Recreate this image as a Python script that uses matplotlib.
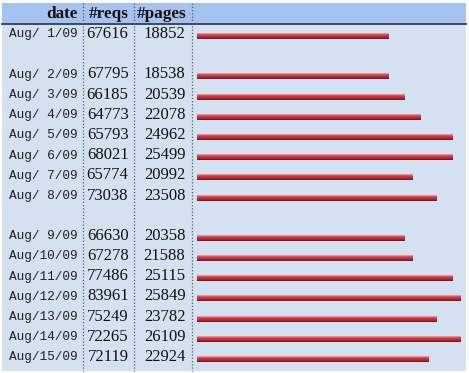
import numpy as np
import matplotlib
matplotlib.use("Agg")
import matplotlib.pyplot as plt

# ---- data ----
dates = ["Aug/ 1/09", None, "Aug/ 2/09", "Aug/ 3/09", "Aug/ 4/09", "Aug/ 5/09",
         "Aug/ 6/09", "Aug/ 7/09", "Aug/ 8/09", None, "Aug/ 9/09", "Aug/10/09",
         "Aug/11/09", "Aug/12/09", "Aug/13/09", "Aug/14/09", "Aug/15/09"]
reqs = [67616, None, 67795, 66185, 64773, 65793, 68021, 65774, 73038, None,
        66630, 67278, 77486, 83961, 75249, 72265, 72119]
pages = [18852, None, 18538, 20539, 22078, 24962, 25499, 20992, 23508, None,
         20358, 21588, 25115, 25849, 23782, 26109, 22924]
headers = ["date", "#reqs", "#pages"]
pages_per_step = 787  # bars are drawn in 8 px steps

W, H = 469, 373
fig = plt.figure(figsize=(W / 100, H / 100), dpi=100)
fig.patch.set_facecolor("white")

row0, rowh = 34.0, 20.19
def prow(p):
    return (p - row0) / rowh

ax = fig.add_axes([0, 0, 1, 1])
ax.set_xlim(0, W)
ax.set_ylim(prow(H), prow(0))
ax.axis("off")

left, right, top, bottom, hdr = 2, 466, 3, 371, 24
body_c = "#d3e1f1"
head_c = "#a6c2ee"
ax.add_patch(plt.Rectangle((left, prow(top)), right - left, prow(bottom) - prow(top),
                           facecolor=body_c, edgecolor="none", zorder=0))
ax.add_patch(plt.Rectangle((left, prow(top)), right - left, prow(hdr) - prow(top),
                           facecolor=head_c, edgecolor="none", zorder=1))
ax.plot([left, right], [prow(hdr), prow(hdr)], color="#2f3f5c", lw=1.3, zorder=3)
for xv in [83, 134, 192]:
    ax.plot([xv, xv], [prow(top), prow(bottom)], color="#4a5a78", lw=0.9,
            ls=(0, (1, 1.6)), zorder=3)

hy = prow(14)
for xr, h in zip([78, 129, 186], headers):
    ax.text(xr, hy, h, ha="right", va="center", family="Liberation Serif",
            fontweight="bold", fontsize=12.3, color="#111111", zorder=4)

for i, (d, r, p) in enumerate(zip(dates, reqs, pages)):
    if d is None:
        continue
    ax.text(77.5, i + 0.02, d, ha="right", va="center", family="Liberation Mono",
            fontsize=9.2, color="#222222", zorder=4)
    ax.text(128.5, i, str(r), ha="right", va="center", family="Liberation Serif",
            fontsize=12, color="#111111", zorder=4)
    ax.text(185.5, i, str(p), ha="right", va="center", family="Liberation Serif",
            fontsize=12, color="#111111", zorder=4)

# bars
bx0 = 197
bax = fig.add_axes([bx0 / W, 0, (right - bx0) / W, 1], sharey=ax)
bax.set_xlim(0, (right - bx0) / 8)
bax.axis("off")
valid = [p for p in pages if p is not None]
ys = np.array([i for i, p in enumerate(pages) if p is not None], dtype=float)
ws = [round(p / pages_per_step) for p in valid]
grad = ["#e98f95", "#d9545c", "#cb3a42", "#bd2f37", "#a5242c", "#7e1b22"]
n = len(grad)
slice_h = 1.0 / rowh
top_px = 33.0 - row0  # bar top offset in px relative to row center
for k, c in enumerate(grad):
    yc = ys + (top_px + k + 0.5) / rowh
    bax.barh(yc, ws, height=slice_h * 1.02, left=0, color=c, edgecolor="none",
             zorder=2 + k)

fig.savefig("out.png", dpi=100, facecolor="white")
